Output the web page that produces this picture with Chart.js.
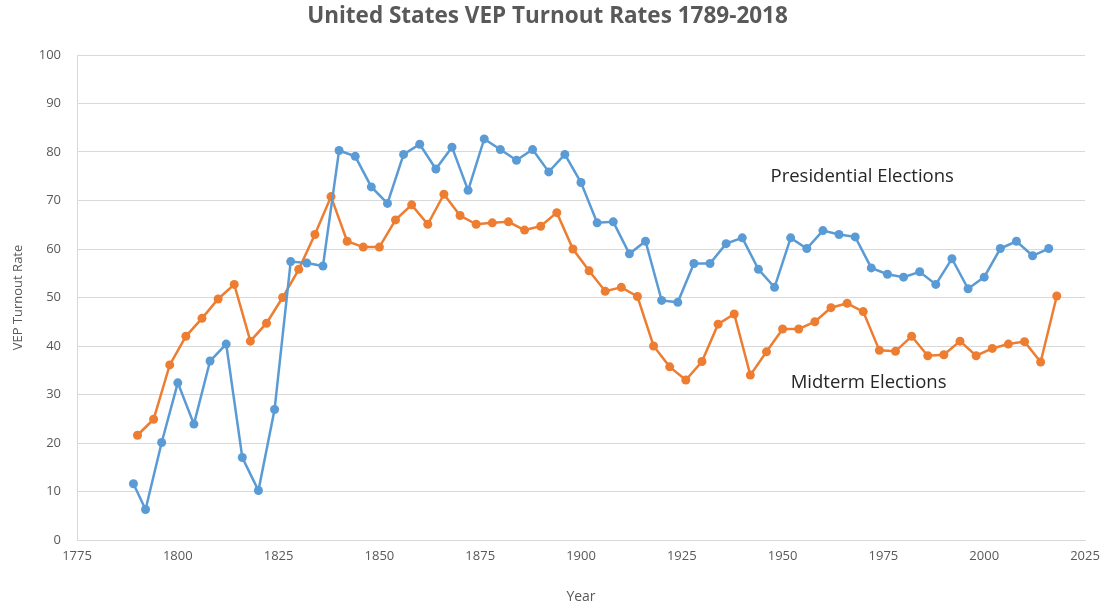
<!DOCTYPE html>
<html>
<head>
<meta charset="utf-8">
<script src="https://cdn.jsdelivr.net/npm/chart.js@4/dist/chart.umd.min.js"></script>
<style>
  html, body { margin: 0; padding: 0; background: #fff; }
  #wrap { width: 1112px; height: 605px; }
</style>
</head>
<body>
<div id="wrap"><canvas id="turnoutChart"></canvas></div>
<script>
// presidential election years and turnout
const presYears = [1789, 1792, 1796, 1800, 1804, 1808, 1812, 1816, 1820, 1824, 1828, 1832, 1836, 1840, 1844, 1848,
    1852, 1856, 1860, 1864, 1868, 1872, 1876, 1880, 1884, 1888, 1892, 1896, 1900, 1904, 1908, 1912, 1916, 1920,
    1924, 1928, 1932, 1936, 1940, 1944, 1948, 1952, 1956, 1960, 1964, 1968, 1972, 1976, 1980, 1984, 1988, 1992,
    1996, 2000, 2004, 2008, 2012, 2016];
const presTurnout = [11.6, 6.3, 20.1, 32.4, 23.9, 36.9, 40.4, 17.0, 10.2, 26.9, 57.4, 57.1, 56.5, 80.3, 79.1, 72.8,
    69.4, 79.5, 81.6, 76.5, 81.0, 72.1, 82.7, 80.5, 78.3, 80.5, 75.9, 79.5, 73.7, 65.4, 65.6, 59.0, 61.6, 49.4,
    49.0, 57.0, 57.0, 61.1, 62.3, 55.8, 52.1, 62.3, 60.1, 63.8, 63.0, 62.5, 56.1, 54.8, 54.2, 55.3, 52.7, 58.0,
    51.8, 54.2, 60.1, 61.6, 58.6, 60.1];

// midterm election years and turnout
const midYears = [1790, 1794, 1798, 1802, 1806, 1810, 1814, 1818, 1822, 1826, 1830, 1834, 1838, 1842, 1846, 1850,
    1854, 1858, 1862, 1866, 1870, 1874, 1878, 1882, 1886, 1890, 1894, 1898, 1902, 1906, 1910, 1914, 1918, 1922,
    1926, 1930, 1934, 1938, 1942, 1946, 1950, 1954, 1958, 1962, 1966, 1970, 1974, 1978, 1982, 1986, 1990, 1994,
    1998, 2002, 2006, 2010, 2014, 2018];
const midTurnout = [21.6, 24.9, 36.1, 42.0, 45.7, 49.7, 52.7, 41.0, 44.7, 50.0, 55.8, 63.0, 70.8, 61.6, 60.4, 60.4,
    66.0, 69.1, 65.1, 71.3, 66.9, 65.1, 65.4, 65.6, 63.9, 64.7, 67.5, 60.0, 55.5, 51.3, 52.1, 50.2, 40.0, 35.7,
    33.0, 36.8, 44.5, 46.6, 34.0, 38.8, 43.5, 43.5, 45.0, 47.9, 48.8, 47.1, 39.1, 38.9, 42.0, 38.0, 38.2, 41.0,
    38.0, 39.5, 40.4, 40.9, 36.7, 50.3];

const xTicks = [1775, 1800, 1825, 1850, 1875, 1900, 1925, 1950, 1975, 2000, 2025];
const yTicks = [0, 10, 20, 30, 40, 50, 60, 70, 80, 90, 100];

// series labels drawn inside the plot, anchored in data units
const seriesLabels = ['Presidential Elections', 'Midterm Elections'];
const labelYears = [1947, 1952];
const labelValues = [75, 32.4];

const BLUE = '#5B9BD5';
const ORANGE = '#ED7D31';
const TEXT = '#595959';

const toPoints = (xs, ys) => xs.map((x, i) => ({ x: x, y: ys[i] }));

const inlineLabels = {
    id: 'inlineLabels',
    afterDatasetsDraw(chart) {
        const c = chart.ctx;
        const xs = chart.scales.x;
        const ys = chart.scales.y;
        c.save();
        c.fillStyle = '#262626';
        c.font = '18.5px "Open Sans", sans-serif';
        c.textAlign = 'left';
        c.textBaseline = 'middle';
        seriesLabels.forEach((txt, i) => {
            c.fillText(txt, xs.getPixelForValue(labelYears[i]), ys.getPixelForValue(labelValues[i]));
        });
        c.restore();
    }
};

const ctx = document.getElementById('turnoutChart').getContext('2d');
const turnoutChart = new Chart(ctx, {
    type: 'line',
    data: {
        datasets: [{
            label: 'Presidential Elections',
            data: toPoints(presYears, presTurnout),
            borderColor: BLUE,
            backgroundColor: BLUE,
            borderWidth: 2.5,
            pointRadius: 4.5,
            pointBorderWidth: 0,
            tension: 0
        }, {
            label: 'Midterm Elections',
            data: toPoints(midYears, midTurnout),
            borderColor: ORANGE,
            backgroundColor: ORANGE,
            borderWidth: 2.5,
            pointRadius: 4.5,
            pointBorderWidth: 0,
            tension: 0
        }]
    },
    options: {
        responsive: true,
        maintainAspectRatio: false,
        animation: false,
        layout: { padding: { left: 10, right: 27, top: 0, bottom: 0 } },
        plugins: {
            legend: { display: false },
            tooltip: { enabled: false },
            title: {
                display: true,
                text: 'United States VEP Turnout Rates 1789-2018',
                color: TEXT,
                font: { family: '"Open Sans", sans-serif', size: 22.5, weight: 'bold' },
                padding: { top: 3, bottom: 25 }
            }
        },
        scales: {
            x: {
                type: 'linear',
                min: xTicks[0],
                max: xTicks[xTicks.length - 1],
                afterBuildTicks: scale => { scale.ticks = xTicks.map(v => ({ value: v })); },
                ticks: {
                    color: TEXT,
                    font: { family: '"Open Sans", sans-serif', size: 13 },
                    maxRotation: 0,
                    padding: 0,
                    callback: v => String(v)
                },
                grid: { display: false },
                border: { color: '#d9d9d9', width: 1 },
                title: {
                    display: true,
                    text: 'Year',
                    color: TEXT,
                    font: { family: '"Open Sans", sans-serif', size: 14 },
                    padding: { top: 11, bottom: 0 }
                },
                afterFit: scale => { scale.height = 65; }
            },
            y: {
                min: 0,
                max: 100,
                afterBuildTicks: scale => { scale.ticks = yTicks.map(v => ({ value: v })); },
                ticks: {
                    color: TEXT,
                    font: { family: '"Open Sans", sans-serif', size: 13 },
                    padding: 16
                },
                grid: { color: '#d9d9d9', lineWidth: 1, drawTicks: false },
                border: { color: '#d9d9d9', width: 1 },
                title: {
                    display: true,
                    text: 'VEP Turnout Rate',
                    color: TEXT,
                    font: { family: '"Open Sans", sans-serif', size: 13 },
                    padding: { top: 0, bottom: 4 }
                },
                afterFit: scale => { scale.width = 67; }
            }
        }
    },
    plugins: [inlineLabels]
});
</script>
</body>
</html>
